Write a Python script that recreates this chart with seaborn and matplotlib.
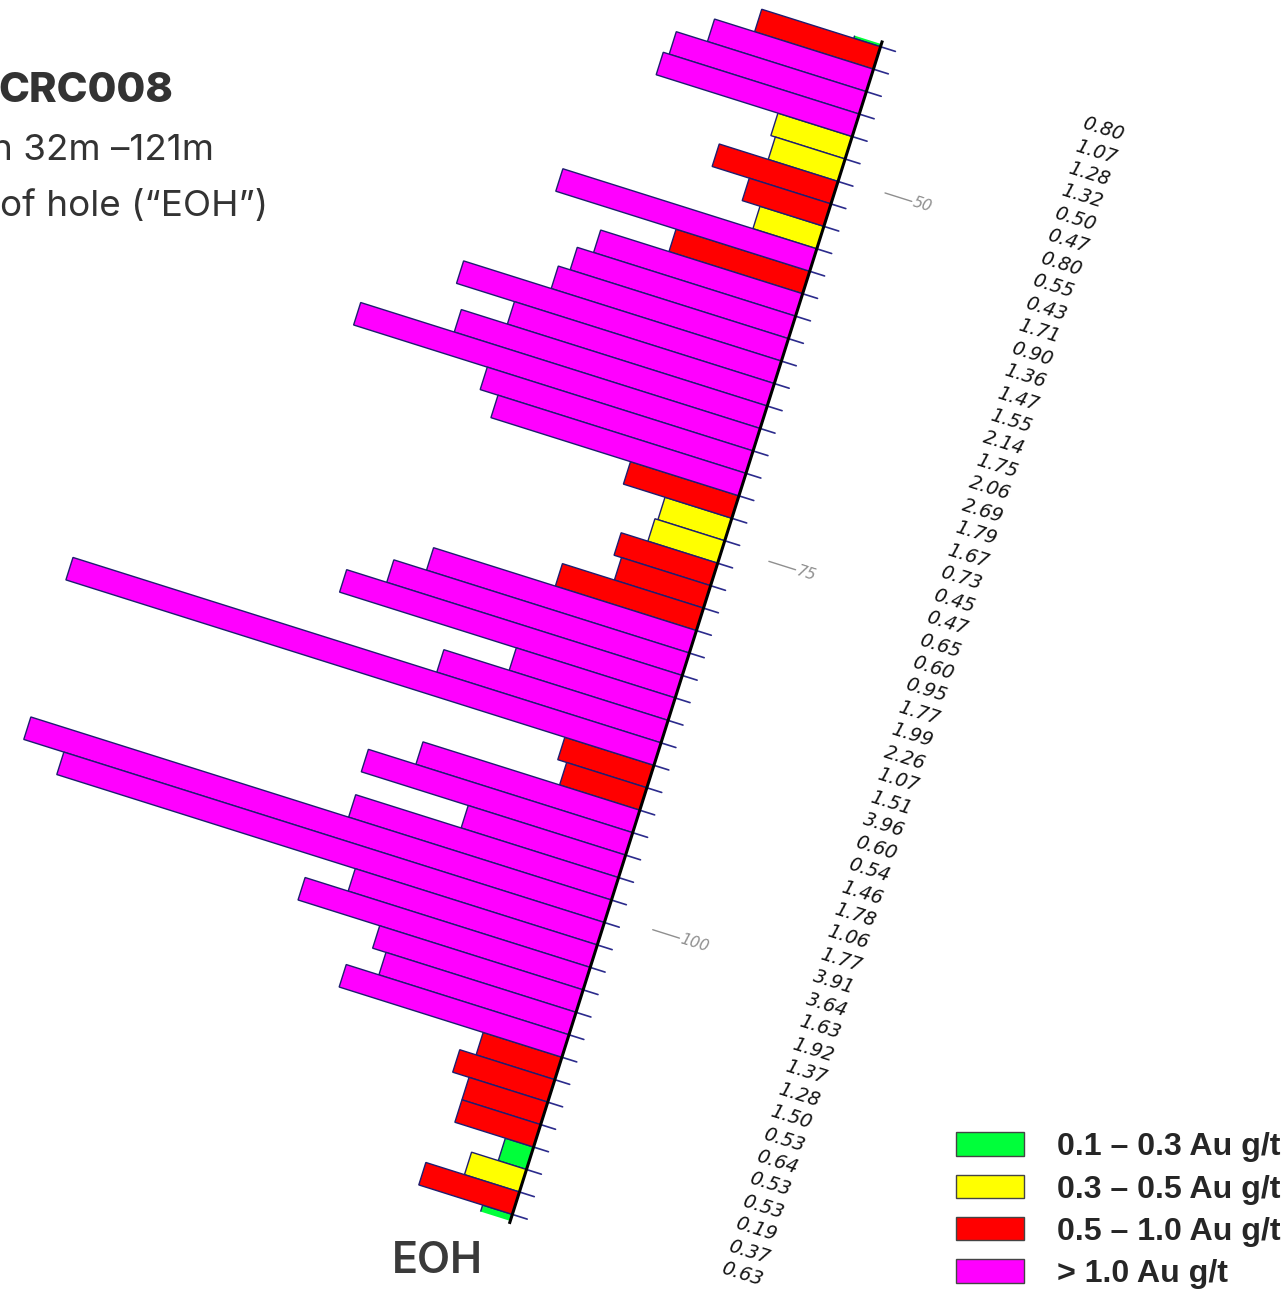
import numpy as np
import pandas as pd
import matplotlib
matplotlib.use("Agg")
import matplotlib.pyplot as plt
import seaborn as sns
from matplotlib.transforms import Affine2D
from matplotlib.patches import Patch, Polygon
from matplotlib.font_manager import FontProperties

# ---------------- data ----------------
# Au grades (g/t) down the hole; first and last entries are the partly hidden samples
grades = [0.18, 0.80, 1.07, 1.28, 1.32, 0.50, 0.47, 0.80, 0.55, 0.43, 1.71, 0.90,
          1.36, 1.47, 1.55, 2.14, 1.75, 2.06, 2.69, 1.79, 1.67, 0.73, 0.45, 0.47,
          0.65, 0.60, 0.95, 1.77, 1.99, 2.26, 1.07, 1.51, 3.96, 0.60, 0.54, 1.46,
          1.78, 1.06, 1.77, 3.91, 3.64, 1.63, 1.92, 1.37, 1.28, 1.50, 0.53, 0.64,
          0.53, 0.53, 0.19, 0.37, 0.63, 0.20]
band_labels = ["0.1 – 0.3 Au g/t", "0.3 – 0.5 Au g/t", "0.5 – 1.0 Au g/t", "> 1.0 Au g/t"]
band_upper = [0.3, 0.5, 1.0, 99.0]
band_colors = ["#00ff3a", "#ffff00", "#ff0000", "#ff00ff"]
depth_ticks = [50, 75, 100]

# ---------------- layout ----------------
W, H, DPI = 1287, 1295, 100
PX_PER_GT = 155.7          # bar length scale
PX_PER_M = 15.45           # depth scale along the hole
PIVOT = (882.0, 1253.0)    # display px (y up) of top of trace
D0 = 40.74                 # depth at pivot
TILT = -17.5               # hole rotation (deg)
SAMPLE_LEN = 1.524
FIRST_TOP = 41.06 - SAMPLE_LEN
CLIP_TOP, CLIP_BOT = 40.88, 120.75

n = len(grades)
tops = [FIRST_TOP + i * SAMPLE_LEN for i in range(n)]
centers = [t + SAMPLE_LEN / 2 for t in tops]
bands = [band_labels[next(k for k, u in enumerate(band_upper) if g <= u)] for g in grades]
df = pd.DataFrame({"depth": centers, "grade": grades, "band": bands})

sns.set_theme(style="white")
plt.rcParams["font.family"] = ["DejaVu Sans"]

fig = plt.figure(figsize=(W / DPI, H / DPI), dpi=DPI)
ax = fig.add_axes([0, 0, 1, 1])

sns.barplot(data=df, x="grade", y="depth", hue="band", hue_order=band_labels,
            palette=dict(zip(band_labels, band_colors)), orient="h",
            native_scale=True, dodge=False, width=1.0, errorbar=None,
            saturation=1, edgecolor="#1e1e70", linewidth=1.0, legend=False, ax=ax)

ax.set_xlim(PIVOT[0] / PX_PER_GT, (PIVOT[0] - W) / PX_PER_GT)
ax.set_ylim(D0 + PIVOT[1] / PX_PER_M, D0 - (H - PIVOT[1]) / PX_PER_M)
ax.set_axis_off()

rot = Affine2D().rotate_deg_around(PIVOT[0], PIVOT[1], TILT)
tr = ax.transData + rot

clip = Polygon([(-3, CLIP_TOP), (6, CLIP_TOP), (6, CLIP_BOT), (-3, CLIP_BOT)],
               closed=True, transform=tr)
for p in ax.patches:
    p.set_transform(tr)
    p.set_clip_path(clip)

# hole trace
ax.plot([0, 0], [D0 - 0.1, CLIP_BOT + 0.2], color="black", lw=2.2, transform=tr,
        solid_capstyle="butt", zorder=5)
# sample ticks
for i in range(1, n):
    ax.plot([0, -0.1], [tops[i], tops[i]], color="#2b2b8c", lw=1.2, transform=tr, zorder=4)

# depth labels
for d in depth_ticks:
    ax.plot([-0.31, -0.49], [d, d], color="#8f8f8f", lw=1.0, transform=tr)
    ax.text(-0.50, d, str(d), transform=tr, rotation=TILT, rotation_mode="anchor",
            ha="left", va="center", fontsize=11, color="#8f8f8f", style="italic")

# grade labels
for c, g in zip(centers, grades):
    if CLIP_TOP < c < CLIP_BOT:
        ax.text(-1.522, c, f"{g:.2f}", transform=tr, rotation=TILT,
                rotation_mode="anchor", ha="center", va="center",
                fontsize=13.8, color="#141414", style="italic")

# headings
fig.text(-2 / W, 1 - 102 / H, "CRC008", fontsize=30, fontweight="heavy",
         family=["Inter", "DejaVu Sans"], color="#333333", va="baseline", ha="left")
fig.text(-9 / W, 1 - 160 / H, "n 32m –121m", fontsize=26.5,
         family=["Inter", "DejaVu Sans"], color="#333333", va="baseline", ha="left")
fig.text(0 / W, 1 - 216 / H, "of hole (“EOH”)", fontsize=26.5,
         family=["Inter", "DejaVu Sans"], color="#333333", va="baseline", ha="left")
fig.text(437 / W, 1 - 1273 / H, "EOH", fontsize=31, fontweight="semibold",
         family=["Inter", "DejaVu Sans"], color="#3a3a3a", va="baseline", ha="center")

# legend
handles = [Patch(facecolor=c, edgecolor="#444444", linewidth=1.0) for c in band_colors]
fig.legend(handles, band_labels, loc="lower right", bbox_to_anchor=(1281 / W, 6 / H),
           bbox_transform=fig.transFigure, frameon=False,
           prop=FontProperties(family="Liberation Sans", weight="bold", size=23.1),
           handlelength=2.1, handleheight=0.76, handletextpad=1.05,
           labelspacing=0.38, borderpad=0, borderaxespad=0)

fig.savefig("out.png", dpi=DPI, facecolor="white")
